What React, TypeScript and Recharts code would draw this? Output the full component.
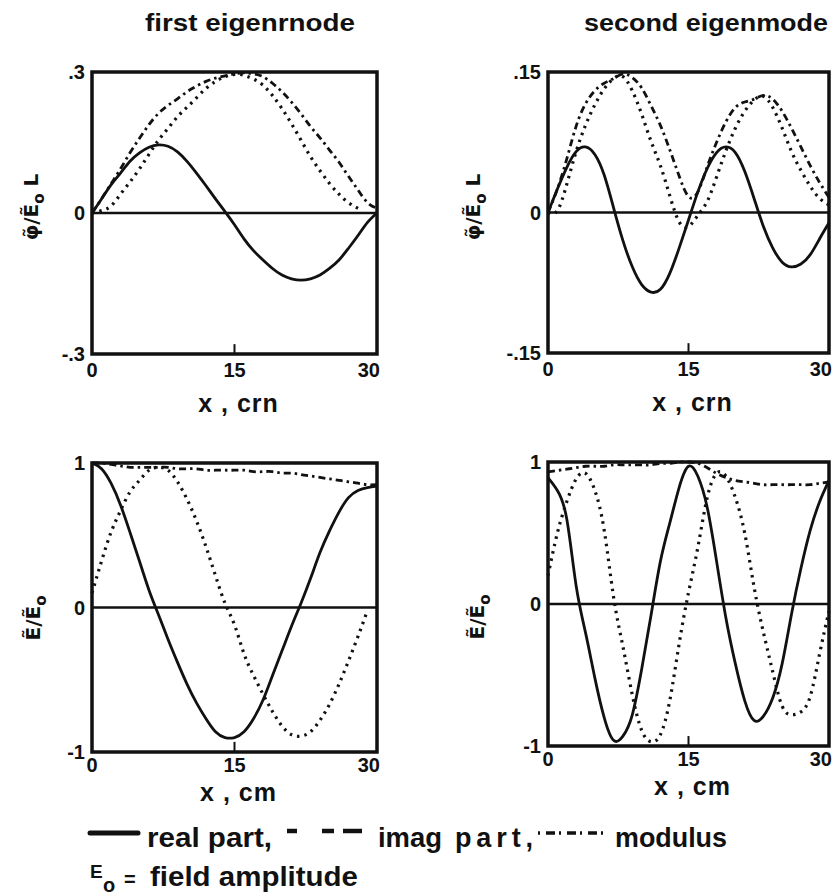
import { LineChart, Line, XAxis, YAxis, ReferenceArea, ReferenceLine } from "recharts";

// x positions along the cavity, cm
const xs = [0, 1, 2, 3, 4, 5, 6, 7, 8, 9, 10, 11, 12, 13, 14, 15, 16, 17, 18, 19, 20, 21, 22, 23, 24, 25, 26, 27, 28, 29, 30];

// first eigenmode, potential
const phi1Real = [0, 0.03, 0.06, 0.085, 0.11, 0.128, 0.14, 0.145, 0.142, 0.13, 0.11, 0.085, 0.058, 0.03, 0.003, -0.025, -0.055, -0.08, -0.1, -0.118, -0.132, -0.14, -0.143, -0.14, -0.132, -0.118, -0.1, -0.075, -0.048, -0.02, 0];
const phi1Imag = [0, 0.005, 0.015, 0.04, 0.066, 0.094, 0.125, 0.155, 0.18, 0.205, 0.225, 0.245, 0.265, 0.28, 0.29, 0.295, 0.293, 0.285, 0.272, 0.25, 0.222, 0.19, 0.155, 0.12, 0.09, 0.063, 0.04, 0.022, 0.01, null, null];
const phi1Mod = [0, 0.03, 0.062, 0.094, 0.128, 0.159, 0.188, 0.212, 0.229, 0.243, 0.258, 0.27, 0.28, 0.287, 0.292, 0.296, 0.298, 0.296, 0.29, 0.276, 0.258, 0.236, 0.211, 0.184, 0.16, 0.134, 0.108, 0.078, 0.049, 0.022, 0.01];

// second eigenmode, potential
const phi2Real = [0, 0.025, 0.048, 0.065, 0.07, 0.062, 0.04, 0.005, -0.03, -0.058, -0.077, -0.085, -0.082, -0.065, -0.038, -0.008, 0.022, 0.047, 0.064, 0.07, 0.064, 0.044, 0.015, -0.015, -0.038, -0.053, -0.058, -0.055, -0.045, -0.028, -0.011];
const phi2Imag = [0, 0.002, 0.03, 0.065, 0.093, 0.115, 0.132, 0.143, 0.145, 0.13, 0.105, 0.076, 0.05, 0.018, -0.01, -0.015, -0.003, 0.012, 0.038, 0.066, 0.09, 0.108, 0.12, 0.124, 0.112, 0.09, 0.065, 0.045, 0.028, 0.015, 0.008];
const phi2Mod = [0, 0.025, 0.057, 0.092, 0.116, 0.13, 0.138, 0.143, 0.148, 0.144, 0.133, 0.114, 0.093, 0.067, 0.039, 0.017, 0.022, 0.049, 0.075, 0.097, 0.112, 0.118, 0.121, 0.125, 0.121, 0.108, 0.09, 0.07, 0.05, 0.032, 0.016];

// first eigenmode, field
const e1Real = [1, 0.96, 0.86, 0.71, 0.52, 0.32, 0.12, -0.05, -0.22, -0.38, -0.53, -0.66, -0.77, -0.86, -0.9, -0.9, -0.86, -0.77, -0.64, -0.47, -0.3, -0.13, 0.03, 0.2, 0.38, 0.53, 0.66, 0.76, 0.81, 0.83, 0.84];
const e1Imag = [0.1, 0.32, 0.52, 0.67, 0.8, 0.88, 0.95, 0.97, 0.95, 0.87, 0.75, 0.6, 0.42, 0.22, 0.03, -0.12, -0.32, -0.47, -0.6, -0.72, -0.82, -0.88, -0.89, -0.86, -0.78, -0.67, -0.53, -0.37, -0.2, -0.02, null];
const e1Mod = [1, 1, 0.99, 0.98, 0.97, 0.97, 0.97, 0.97, 0.97, 0.96, 0.96, 0.96, 0.95, 0.95, 0.95, 0.95, 0.95, 0.94, 0.94, 0.94, 0.93, 0.93, 0.92, 0.91, 0.9, 0.89, 0.88, 0.87, 0.86, 0.85, 0.85];

// second eigenmode, field
const e2Real = [0.89, 0.8, 0.6, 0.13, -0.2, -0.52, -0.8, -0.96, -0.93, -0.78, -0.46, -0.08, 0.3, 0.57, 0.82, 0.97, 0.9, 0.68, 0.3, -0.1, -0.42, -0.68, -0.82, -0.79, -0.66, -0.42, -0.07, 0.25, 0.52, 0.72, 0.87];
const e2Imag = [0.2, 0.5, 0.72, 0.88, 0.92, 0.8, 0.52, 0.05, -0.3, -0.64, -0.89, -0.97, -0.92, -0.68, -0.28, 0.08, 0.4, 0.75, 0.92, 0.9, 0.75, 0.5, 0.12, -0.2, -0.48, -0.72, -0.78, -0.76, -0.65, -0.35, -0.05];
const e2Mod = [0.93, 0.94, 0.95, 0.96, 0.97, 0.97, 0.97, 0.98, 0.98, 0.98, 0.98, 0.98, 0.99, 0.99, 1, 1, 0.99, 0.96, 0.92, 0.89, 0.87, 0.86, 0.85, 0.84, 0.84, 0.84, 0.84, 0.84, 0.84, 0.85, 0.86];

const xTicks = [0, 15, 30];
const phi1Ticks = [-0.3, 0, 0.3];
const phi2Ticks = [-0.15, 0, 0.15];
const eTicks = [-1, 0, 1];

const FONT = "'Liberation Sans', Arial, Helvetica, sans-serif";
const LABEL_FONT = "'DejaVu Sans', 'Liberation Sans', sans-serif";
const INK = "#111";

// chart-internal layout (px)
const PLOT_LEFT = 92;
const PLOT_TOP = 15;
const RIGHT = 4;

const fmtTick = (v: number) => {
  if (v === 0) return "0";
  const s = String(Math.abs(v)).replace(/^0/, "");
  return v < 0 ? "-" + s : s;
};

const rows = (re: (number | null)[], im: (number | null)[], mod: (number | null)[]) =>
  xs.map((x, i) => ({ x, re: re[i], im: im[i], mod: mod[i] }));

const XTick = (props: any) => {
  const { x, y, payload } = props;
  const last = payload.value === 30;
  return (
    <text
      x={last ? x + 3 : x}
      y={y}
      dy="0.71em"
      textAnchor={last ? "end" : "middle"}
      fill={INK}
      fontSize={20}
      fontWeight={700}
      fontFamily={FONT}
    >
      {payload.value}
    </text>
  );
};

type PanelProps = {
  left: number;
  top: number;
  plotW: number;
  plotH: number;
  xAxisH: number;
  re: (number | null)[];
  im: (number | null)[];
  mod: (number | null)[];
  ymax: number;
  yTicks: number[];
  yLabel: "phi" | "E";
  yLabelX: number;
  yLabelY: number;
  xLabel: string;
  xLabelY: number;
  tickGap: number;
};

function YTitle({ kind, x, y }: { kind: "phi" | "E"; x: number; y: number }) {
  return (
    <text
      transform={`translate(${x},${y}) rotate(-90)`}
      textAnchor="middle"
      fontFamily={LABEL_FONT}
      fontWeight={700}
      fontSize={20}
      fill={INK}
    >
      {kind === "phi" ? "\u03c6\u0303/E\u0303" : "E\u0303/E\u0303"}
      <tspan fontSize={15} dy={6}>o</tspan>
      {kind === "phi" ? <tspan dy={-6}> L</tspan> : null}
    </text>
  );
}

function Panel(p: PanelProps) {
  const width = PLOT_LEFT + p.plotW + RIGHT;
  const height = PLOT_TOP + p.plotH + p.xAxisH;
  const data = rows(p.re, p.im, p.mod);
  const tickStyle = { fill: INK, fontSize: 20, fontWeight: 700, fontFamily: FONT };
  const bottom = PLOT_TOP + p.plotH;
  return (
    <div style={{ position: "absolute", left: p.left, top: p.top }}>
      <LineChart
        width={width}
        height={height}
        data={data}
        margin={{ top: PLOT_TOP, right: RIGHT, left: 42, bottom: 0 }}
      >
        <XAxis
          type="number"
          dataKey="x"
          domain={[0, 30]}
          ticks={xTicks}
          interval={0}
          height={p.xAxisH}
          axisLine={false}
          tickLine={false}
          tickSize={0}
          tickMargin={p.tickGap}
          tick={<XTick />}
          label={() => (
            <text
              x={PLOT_LEFT + p.plotW / 2 + 4}
              y={bottom + p.xLabelY}
              textAnchor="middle"
              fontFamily={FONT}
              fontWeight={700}
              fontSize={25}
              letterSpacing={1}
              fill={INK}
            >
              {p.xLabel}
            </text>
          )}
        />
        <YAxis
          type="number"
          domain={[-p.ymax, p.ymax]}
          ticks={p.yTicks}
          interval={0}
          width={50}
          axisLine={false}
          tickLine={false}
          tickSize={0}
          tickMargin={7}
          tickFormatter={fmtTick}
          tick={tickStyle}
          label={() => <YTitle kind={p.yLabel} x={p.yLabelX} y={p.yLabelY} />}
        />
        <ReferenceArea
          x1={0}
          x2={30}
          y1={-p.ymax}
          y2={p.ymax}
          fill="none"
          fillOpacity={0}
          stroke={INK}
          strokeWidth={3.5}
          ifOverflow="visible"
        />
        <ReferenceLine y={0} stroke={INK} strokeWidth={2.5} ifOverflow="visible" />
        <ReferenceLine
          segment={[{ x: 15, y: -p.ymax }, { x: 15, y: -p.ymax * 0.93 }]}
          stroke={INK}
          strokeWidth={2}
          ifOverflow="visible"
        />
        <Line
          type="natural"
          dataKey="mod"
          stroke={INK}
          strokeWidth={2.8}
          strokeDasharray="7 4 2.5 4"
          dot={false}
          isAnimationActive={false}
        />
        <Line
          type="natural"
          dataKey="im"
          stroke={INK}
          strokeWidth={3.2}
          strokeDasharray="2.5 5"
          dot={false}
          isAnimationActive={false}
        />
        <Line
          type="natural"
          dataKey="re"
          stroke={INK}
          strokeWidth={2.8}
          dot={false}
          isAnimationActive={false}
        />
      </LineChart>
    </div>
  );
}

function Titles() {
  return (
    <svg
      width={833}
      height={40}
      style={{ position: "absolute", left: 0, top: 0 }}
      fontFamily={FONT}
      fontWeight={700}
      fill={INK}
    >
      <text x={145} y={31} fontSize={23} textLength={210} lengthAdjust="spacingAndGlyphs">
        first eigenrnode
      </text>
      <text x={584} y={31} fontSize={23} textLength={244} lengthAdjust="spacingAndGlyphs">
        second eigenmode
      </text>
    </svg>
  );
}

function Legend() {
  return (
    <svg
      width={833}
      height={96}
      style={{ position: "absolute", left: 0, top: 800 }}
      fontFamily={FONT}
      fontWeight={700}
      fill={INK}
    >
      <line x1={90} y1={33} x2={138} y2={33} stroke={INK} strokeWidth={5} strokeLinecap="round" />
      <text x={147} y={47} fontSize={28} textLength={125} lengthAdjust="spacingAndGlyphs">real part,</text>
      <line x1={287} y1={31} x2={297} y2={31} stroke={INK} strokeWidth={4.5} />
      <line x1={322} y1={31} x2={334} y2={31} stroke={INK} strokeWidth={4.5} />
      <line x1={343} y1={31} x2={362} y2={31} stroke={INK} strokeWidth={4.5} />
      <text x={378} y={47} fontSize={28} textLength={64} lengthAdjust="spacingAndGlyphs">imag</text>
      <text x={455} y={47} fontSize={27} textLength={78} lengthAdjust="spacing">part,</text>
      <line x1={538} y1={33} x2={608} y2={33} stroke={INK} strokeWidth={3.5} strokeDasharray="2 6 9 4" />
      <text x={615} y={47} fontSize={28} textLength={112} lengthAdjust="spacingAndGlyphs">modulus</text>
      <text x={90} y={78} fontSize={19}>E</text>
      <text x={103} y={92} fontSize={20}>o</text>
      <text x={124} y={86} fontSize={20}>=</text>
      <text x={150} y={86} fontSize={28} textLength={208} lengthAdjust="spacingAndGlyphs">field amplitude</text>
    </svg>
  );
}

export default function App() {
  return (
    <div
      style={{
        position: "absolute",
        left: 0,
        top: 0,
        width: 833,
        height: 896,
        overflow: "hidden",
        background: "#fff",
      }}
    >
      <Titles />

      <Panel
        left={0}
        top={57}
        plotW={285}
        plotH={282}
        xAxisH={64}
        re={phi1Real}
        im={phi1Imag}
        mod={phi1Mod}
        ymax={0.3}
        yTicks={phi1Ticks}
        yLabel="phi"
        yLabelX={38}
        yLabelY={150}
        xLabel="x , crn"
        xLabelY={58}
        tickGap={9}
      />
      <Panel
        left={456}
        top={57}
        plotW={281}
        plotH={281}
        xAxisH={64}
        re={phi2Real}
        im={phi2Imag}
        mod={phi2Mod}
        ymax={0.15}
        yTicks={phi2Ticks}
        yLabel="phi"
        yLabelX={24}
        yLabelY={150}
        xLabel="x , crn"
        xLabelY={58}
        tickGap={9}
      />
      <Panel
        left={0}
        top={448}
        plotW={285}
        plotH={289}
        xAxisH={54}
        re={e1Real}
        im={e1Imag}
        mod={e1Mod}
        ymax={1}
        yTicks={eTicks}
        yLabel="E"
        yLabelX={40}
        yLabelY={170}
        xLabel="x , cm"
        xLabelY={49}
        tickGap={6}
      />
      <Panel
        left={456}
        top={447}
        plotW={281}
        plotH={284}
        xAxisH={54}
        re={e2Real}
        im={e2Imag}
        mod={e2Mod}
        ymax={1}
        yTicks={eTicks}
        yLabel="E"
        yLabelX={28}
        yLabelY={170}
        xLabel="x , cm"
        xLabelY={49}
        tickGap={6}
      />

      <Legend />
    </div>
  );
}
